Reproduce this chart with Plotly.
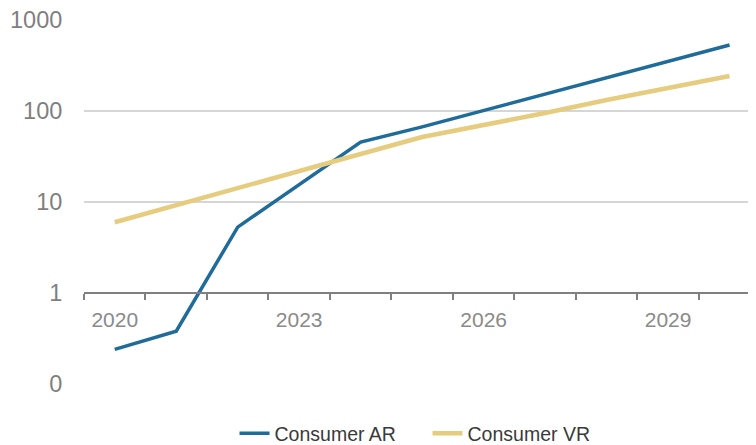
import plotly.graph_objects as go

# Données (échelle log)
years = [2020, 2021, 2022, 2023, 2024, 2025, 2026, 2027, 2028, 2029, 2030]
ar_values = [0.24, 0.38, 5.3, 15.4, 45.6, 67, 101, 154, 231, 350, 531]
vr_values = [6.0, 9.3, 14.3, 21.9, 33.7, 51.8, 70, 95, 132, 179, 243]

x_labels = [2020, 2023, 2026, 2029]
y_ticks = [0.1, 1, 10, 100, 1000]
y_text = ["0", "1", "10", "100", "1000"]

BLUE = "#1f6b99"
GOLD = "#e6cc7e"
GREY = "#808080"
FONT = "Liberation Sans, Arial, sans-serif"

fig = go.Figure()
fig.add_trace(go.Scatter(
    x=years, y=ar_values, name="Consumer AR", mode="lines",
    line=dict(color=BLUE, width=3.5),
))
fig.add_trace(go.Scatter(
    x=years, y=vr_values, name="Consumer VR", mode="lines",
    line=dict(color=GOLD, width=4.5),
))

# la page ajoute 8 px de marge autour de la figure
fig.update_layout(
    width=748, height=445,
    margin=dict(l=76, r=0, t=12, b=68),
    paper_bgcolor="white", plot_bgcolor="white",
    font=dict(family=FONT, color=GREY),
    showlegend=True,
    legend=dict(
        orientation="h", x=0.224, xanchor="left", y=-0.136, yanchor="middle",
        font=dict(size=19.5, color="#3a3a3a"),
        entrywidth=148, entrywidthmode="pixels",
        traceorder="normal",
    ),
    xaxis=dict(
        type="linear", range=[2019.5, 2030.43],
        tickmode="array", tickvals=x_labels,
        ticks="outside", ticklen=8, tickcolor="rgba(0,0,0,0)",
        tickfont=dict(size=21, color="#8a8a8a"),
        showgrid=False, zeroline=False,
        showline=True, linecolor=GREY, linewidth=1.5,
        anchor="free", position=0.25,
        minor=dict(
            tickmode="array", tickvals=[2019.5 + i for i in range(12)],
            ticks="outside", ticklen=6, tickcolor=GREY, tickwidth=1.5,
            showgrid=False,
        ),
    ),
    yaxis=dict(
        type="log", range=[-1, 3.0005], domain=[0, 1],
        tickmode="array", tickvals=y_ticks, ticktext=y_text,
        ticks="outside", ticklen=16, tickcolor="rgba(0,0,0,0)",
        tickfont=dict(size=23.5, color="#7f7f7f"),
        ticklabeloverflow="allow",
        showgrid=True, gridcolor="#d6d6d6", gridwidth=1.5,
        zeroline=False, showline=False,
    ),
)

fig.write_html("out.html")
